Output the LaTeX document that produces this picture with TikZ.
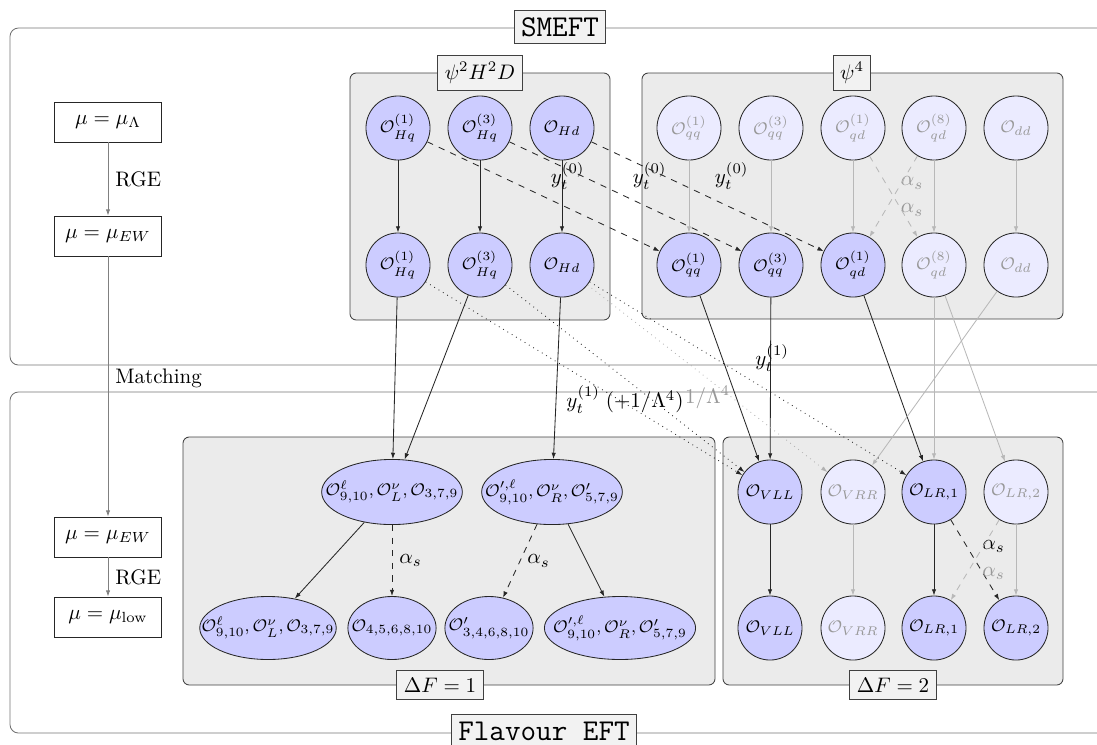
\documentclass[tikz,border=0pt]{standalone}
\usetikzlibrary{shapes.geometric,arrows.meta}
\begin{document}
\begin{tikzpicture}[x=0.47619pt,y=-0.47619pt,
  >={Latex[length=3pt,width=2.1pt]},
  outerframe/.style={draw=black!55, rounded corners=4pt},
  opgroup/.style={draw=black!75, fill=black!8, rounded corners=3pt},
  titlebox/.style={draw=black!75, fill=black!5, inner sep=3.3pt},
  opon/.style={circle, draw=black!85, fill=blue!20, minimum size=30.5pt, inner sep=0pt, font=\footnotesize},
  opoff/.style={opon, fill=blue!8, text=black!40},
  ellop/.style={ellipse, draw=black!85, fill=blue!20, inner sep=0pt, minimum height=31pt, font=\footnotesize},
  scalebox/.style={draw=black!85, fill=white, minimum width=51pt, minimum height=19pt},
  arr/.style={->, draw=black!85},
  arroff/.style={->, draw=black!28},
  mixarr/.style={->, dashed, draw=black!85},
  mixoff/.style={->, dashed, draw=black!28},
  loopline/.style={->, dotted, draw=black!85},
  loopoff/.style={->, dotted, draw=black!30},
  scalearr/.style={->, draw=black!50},
]
\useasboundingbox (0,0) rectangle (1097,744);

% outer regions
\draw[outerframe] (10,28) rectangle (1125,365);
\draw[outerframe] (10,392) rectangle (1125,733);
\node[titlebox, font=\Large\ttfamily] (tSM) at (560,27) {SMEFT};
\node[titlebox, font=\Large\ttfamily] (tFE) at (544,731) {Flavour EFT};

% operator groups
\draw[opgroup] (350,73) rectangle (610,320);
\draw[opgroup] (642,73) rectangle (1063,319);
\draw[opgroup] (183,437) rectangle (715,685);
\draw[opgroup] (723,437) rectangle (1063,685);
\node[titlebox] (tA) at (480,73) {$\psi^2 H^2 D$};
\node[titlebox] (tB) at (852,73) {$\psi^4$};
\node[titlebox] (tC) at (440,685) {$\Delta F = 1$};
\node[titlebox] (tD) at (893,685) {$\Delta F = 2$};

% scales
\node[scalebox] (sL) at (108,122) {$\mu = \mu_\Lambda$};
\node[scalebox] (sEW) at (108,236) {$\mu = \mu_{EW}$};
\node[scalebox] (sEWb) at (108,537) {$\mu = \mu_{EW}$};
\node[scalebox] (slow) at (108,617) {$\mu = \mu_{\mathrm{low}}$};
\draw[scalearr] (sL) -- node[right] {RGE} (sEW);
\draw[scalearr] (sEW) -- node[pos=0.47, right] {Matching} (sEWb);
\draw[scalearr] (sEWb) -- node[right] {RGE} (slow);

% psi^2 H^2 D
\node[opon] (Hq1a) at (398,128) {$\mathcal{O}_{Hq}^{(1)}$};
\node[opon] (Hq3a) at (480,128) {$\mathcal{O}_{Hq}^{(3)}$};
\node[opon] (Hda)  at (562,128) {$\mathcal{O}_{Hd}$};
\node[opon] (Hq1b) at (398,265) {$\mathcal{O}_{Hq}^{(1)}$};
\node[opon] (Hq3b) at (480,265) {$\mathcal{O}_{Hq}^{(3)}$};
\node[opon] (Hdb)  at (562,265) {$\mathcal{O}_{Hd}$};

% psi^4
\node[opoff] (qq1a) at (689,128)  {$\mathcal{O}_{qq}^{(1)}$};
\node[opoff] (qq3a) at (771,128)  {$\mathcal{O}_{qq}^{(3)}$};
\node[opoff] (qd1a) at (853,128)  {$\mathcal{O}_{qd}^{(1)}$};
\node[opoff] (qd8a) at (934,128)  {$\mathcal{O}_{qd}^{(8)}$};
\node[opoff] (dda)  at (1016,128) {$\mathcal{O}_{dd}$};
\node[opon]  (qq1b) at (689,265)  {$\mathcal{O}_{qq}^{(1)}$};
\node[opon]  (qq3b) at (771,265)  {$\mathcal{O}_{qq}^{(3)}$};
\node[opon]  (qd1b) at (853,265)  {$\mathcal{O}_{qd}^{(1)}$};
\node[opoff] (qd8b) at (934,265)  {$\mathcal{O}_{qd}^{(8)}$};
\node[opoff] (ddb)  at (1016,265) {$\mathcal{O}_{dd}$};

% Delta F = 1
\node[ellop, minimum width=67pt] (E1) at (392,492)
  {\makebox[0pt]{$\mathcal{O}_{9,10}^{\ell}, \mathcal{O}_L^{\nu}, \mathcal{O}_{3,7,9}$}};
\node[ellop, minimum width=67pt] (E2) at (552,492)
  {\makebox[0pt]{$\mathcal{O}_{9,10}^{\prime,\ell}, \mathcal{O}_R^{\nu}, \mathcal{O}'_{5,7,9}$}};
\node[ellop, minimum width=65pt, minimum height=30pt] (F1) at (268,628)
  {\makebox[0pt]{$\mathcal{O}_{9,10}^{\ell}, \mathcal{O}_L^{\nu}, \mathcal{O}_{3,7,9}$}};
\node[ellop, minimum width=42pt, minimum height=30pt] (F2) at (392,628)
  {\makebox[0pt]{$\mathcal{O}_{4,5,6,8,10}$}};
\node[ellop, minimum width=42pt, minimum height=30pt] (F3) at (489,628)
  {\makebox[0pt]{$\mathcal{O}'_{3,4,6,8,10}$}};
\node[ellop, minimum width=72pt, minimum height=30pt] (F4) at (620,628)
  {\makebox[0pt]{$\mathcal{O}_{9,10}^{\prime,\ell}, \mathcal{O}_R^{\nu}, \mathcal{O}'_{5,7,9}$}};

% Delta F = 2
\node[opon]  (VLLa) at (770,492)  {$\mathcal{O}_{VLL}$};
\node[opoff] (VRRa) at (853,492)  {$\mathcal{O}_{VRR}$};
\node[opon]  (LR1a) at (934,492)  {$\mathcal{O}_{LR,1}$};
\node[opoff] (LR2a) at (1016,492) {$\mathcal{O}_{LR,2}$};
\node[opon]  (VLLb) at (770,628)  {$\mathcal{O}_{VLL}$};
\node[opoff] (VRRb) at (853,628)  {$\mathcal{O}_{VRR}$};
\node[opon]  (LR1b) at (934,628)  {$\mathcal{O}_{LR,1}$};
\node[opon]  (LR2b) at (1016,628) {$\mathcal{O}_{LR,2}$};

% SMEFT running
\draw[arr] (Hq1a) -- (Hq1b);
\draw[arr] (Hq3a) -- (Hq3b);
\draw[arr] (Hda) -- (Hdb);
\draw[arroff] (qq1a) -- (qq1b);
\draw[arroff] (qq3a) -- (qq3b);
\draw[arroff] (qd1a) -- (qd1b);
\draw[arroff] (qd8a) -- (qd8b);
\draw[arroff] (dda) -- (ddb);
\draw[mixarr] (Hq1a) -- node[above right] {$y_t^{(0)}$} (qq1b);
\draw[mixarr] (Hq3a) -- node[above right] {$y_t^{(0)}$} (qq3b);
\draw[mixarr] (Hda) -- node[above right] {$y_t^{(0)}$} (qd1b);
\draw[mixoff] (qd1a) -- node[above right, text=black!40] {$\alpha_s$} (qd8b);
\draw[mixoff] (qd8a) -- node[below right, text=black!40] {$\alpha_s$} (qd1b);

% matching onto the flavour EFT
\draw[arr] (Hq1b) -- (E1);
\draw[arr] (Hq3b) -- (E1);
\draw[arr] (Hdb) -- (E2);
\draw[arr] (qq1b) -- (VLLa);
\draw[arr] (qq3b) -- (VLLa);
\draw[arr] (qd1b) -- (LR1a);
\draw[arroff] (qd8b) -- (LR1a);
\draw[arroff] (qd8b) -- (LR2a);
\draw[arroff] (ddb) -- (VRRa);
\draw[loopline] (Hq1b) -- (VLLa);
\draw[loopline] (Hq3b) -- node[below] {$y_t^{(1)}\;(+1/\Lambda^4)$} (VLLa);
\draw[loopoff] (Hdb) -- node[below, text=black!40] {$1/\Lambda^4$} (VRRa);
\draw[loopline] (Hdb) -- node[above right] {$y_t^{(1)}$} (LR1a);

% flavour EFT running
\draw[arr] (E1) -- (F1);
\draw[mixarr] (E1) -- node[right] {$\alpha_s$} (F2);
\draw[mixarr] (E2) -- node[right] {$\alpha_s$} (F3);
\draw[arr] (E2) -- (F4);
\draw[arr] (VLLa) -- (VLLb);
\draw[arroff] (VRRa) -- (VRRb);
\draw[arr] (LR1a) -- (LR1b);
\draw[arroff] (LR2a) -- (LR2b);
\draw[mixarr] (LR1a) -- node[above right] {$\alpha_s$} (LR2b);
\draw[mixoff] (LR2a) -- node[below right, text=black!40] {$\alpha_s$} (LR1b);
\end{tikzpicture}
\end{document}
